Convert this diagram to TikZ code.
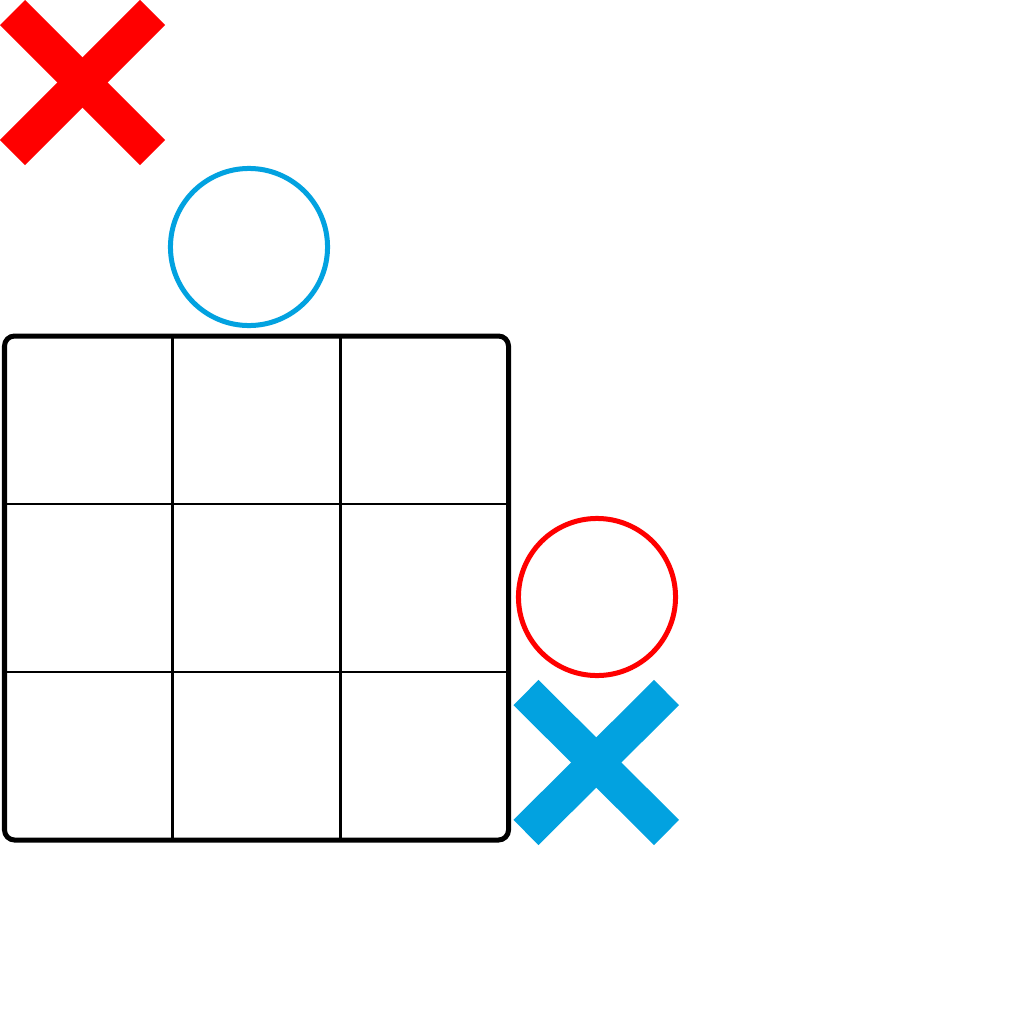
\documentclass[tikz,border=0pt]{standalone}
\usetikzlibrary{positioning,calc}
\definecolor{markred}{RGB}{255,0,0}
\definecolor{markblue}{RGB}{2,162,224}
\tikzset{
	board/.style={draw, line width=0.05cm, rounded corners=0.1cm},
	gridline/.style={draw, line width=0.025cm},
	ring/.style={circle, draw, line width=0.05cm, minimum size=1.57cm, inner sep=0pt},
	cross/.style={line width=0.355cm, line cap=butt}
}
\begin{document}
\begin{tikzpicture}[x=0.01cm, y=-0.01cm]
	\useasboundingbox (0,0) rectangle (1024,1024);
	% board
	\coordinate (bTL) at (4.5,336);
	\coordinate (bBR) at (508.5,840);
	\draw[board] (bTL) rectangle (bBR);
	\foreach \k in {1,2} {
		\draw[gridline] ($(bTL)+(168*\k,0)$) -- ($(bTL)+(168*\k,504)$);
		\draw[gridline] ($(bTL)+(0,168*\k)$) -- ($(bTL)+(504,168*\k)$);
	}
	% circles
	\node[ring, draw=markblue] (blueO) at (249,247) {};
	\node[ring, draw=markred] (redO) at (597,597) {};
	% red cross
	\coordinate (rA) at (12.5,12.5);
	\coordinate (rB) at (152.5,152.5);
	\draw[cross, markred] (rA) -- (rB);
	\draw[cross, markred] (rA |- rB) -- (rB |- rA);
	% blue cross
	\coordinate (bA) at (526,692.5);
	\coordinate (bB) at (666.5,832.5);
	\draw[cross, markblue] (bA) -- (bB);
	\draw[cross, markblue] (bA |- bB) -- (bB |- bA);
\end{tikzpicture}
\end{document}
